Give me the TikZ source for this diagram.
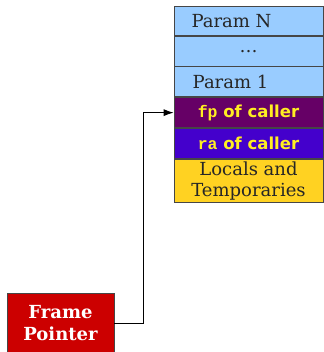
\documentclass[tikz,border=0pt]{standalone}
\usepackage{fontspec}
\setmainfont{DejaVu Serif}
\setsansfont{DejaVu Sans}
\setmonofont{Liberation Mono}
\usepackage{tikz}
\usetikzlibrary{arrows.meta,positioning}
\definecolor{ParamBlue}{RGB}{153,204,255}
\definecolor{CallerPurple}{RGB}{102,0,102}
\definecolor{CallerViolet}{RGB}{68,0,204}
\definecolor{LocalsGold}{RGB}{255,210,34}
\definecolor{PointerRed}{RGB}{204,0,0}
\definecolor{LabelYellow}{RGB}{255,238,34}
\definecolor{EdgeGray}{RGB}{70,70,70}

\begin{document}
\begin{tikzpicture}[x=1pt,y=-1pt,>={Latex[length=10pt,width=7pt]},
  slot/.style={draw=EdgeGray,line width=0.8pt,minimum width=149pt,minimum height=29.5pt,
    inner sep=0pt,font=\fontsize{18}{21}\selectfont,text=black!85},
  callerslot/.style={slot,minimum height=30pt,text=LabelYellow,font=\fontsize{16.5}{20}\selectfont\sffamily\bfseries}]
  \useasboundingbox (0,0) rectangle (323,352);
  \node[slot,fill=ParamBlue] (paramN) at (248.5,21) {\hspace*{-34pt}Param N};
  \node[slot,fill=ParamBlue,below=0pt of paramN] (dots) {\dots};
  \node[slot,fill=ParamBlue,minimum height=30pt,below=0pt of dots] (param1) {\hspace*{-36pt}Param 1};
  \node[callerslot,fill=CallerPurple,below=0pt of param1] (fp) {\texttt{fp} of caller};
  \node[callerslot,fill=CallerViolet,below=0pt of fp] (ra) {\texttt{ra} of caller};
  \node[slot,fill=LocalsGold,minimum height=43pt,align=center,below=0pt of ra] (locals)
    {Locals and\\Temporaries};
  \node[draw=EdgeGray,line width=0.8pt,fill=PointerRed,text=white,minimum width=107pt,minimum height=60pt,
    inner sep=0pt,align=center,font=\fontsize{18}{22}\selectfont\bfseries] (frameptr) at (60.5,323)
    {Frame\\Pointer};
  \coordinate (bend) at (143,0);
  \draw[->,line width=0.8pt] (frameptr.east) -| (bend |- fp.west) -- (fp.west);
\end{tikzpicture}
\end{document}
